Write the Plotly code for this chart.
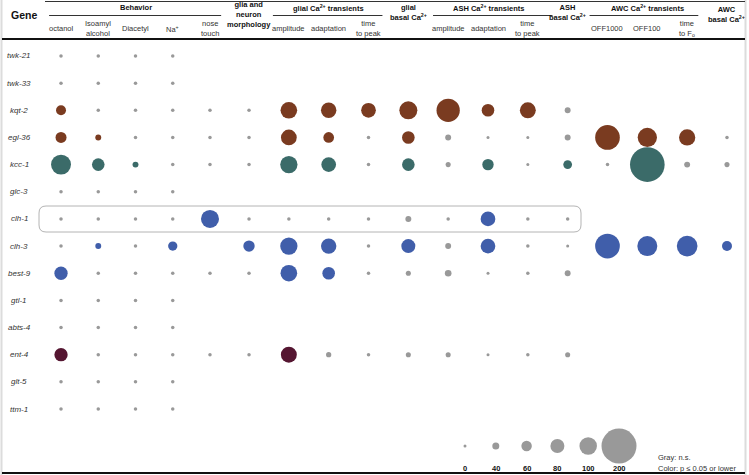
import plotly.graph_objects as go

W, H = 749, 475

# ---------------- data ----------------
genes = ["twk-21", "twk-33", "kqt-2", "egl-36", "kcc-1", "glc-3", "clh-1",
         "clh-3", "best-9", "gtl-1", "abts-4", "ent-4", "glt-5", "ttm-1"]

behavior_cols = ["octanol", "Isoamyl alcohol", "Diacetyl", "Na+", "nose touch"]
imaging_cols = ["morphology",
                "glial amplitude", "glial adaptation", "glial time to peak", "glial basal Ca",
                "ASH amplitude", "ASH adaptation", "ASH time to peak", "ASH basal Ca",
                "AWC OFF1000", "AWC OFF100", "AWC time to Fo", "AWC basal Ca"]
columns = behavior_cols + imaging_cols

behavior_labels = ["octanol", "Isoamyl<br>alcohol", "Diacetyl", "Na<sup>+</sup>", "nose<br>touch"]
imaging_sub_labels = {"glial amplitude": "amplitude", "glial adaptation": "adaptation",
                      "glial time to peak": "time<br>to peak",
                      "ASH amplitude": "amplitude", "ASH adaptation": "adaptation",
                      "ASH time to peak": "time<br>to peak",
                      "AWC OFF1000": "OFF1000", "AWC OFF100": "OFF100",
                      "AWC time to Fo": "time<br>to F<sub>o</sub>"}

N = None
# effect magnitude per gene, one entry per column (None = not tested)
twk21_vals = [20, 20, 20, 20] + [N] * 14
twk33_vals = [20, 20, 20, 20] + [N] * 14
kqt2_vals = [57, 20, 20, 20, 20, 20, 95, 88, 84, 103, 133, 72, 91, 34, N, N, N, N]
egl36_vals = [63, 34, 20, 20, 20, 20, 90, 61, 20, 72, 34, 15, 15, 34, 141, 110, 93, 20]
kcc1_vals = [114, 72, 34, 20, 20, 20, 99, 84, 20, 72, 29, 65, 15, 50, 20, 198, 34, 29]
glc3_vals = [20, 20, 20, 20] + [N] * 14
clh1_vals = [20, 20, 20, 20, 103, 20, 20, 20, 20, 34, 20, 84, 20, 20, N, N, N, N]
clh3_vals = [20, 34, 20, 53, N, 65, 99, 88, 20, 80, 34, 84, 20, 17, 141, 114, 118, 57]
best9_vals = [76, 20, 20, 20, 20, 20, 95, 72, 20, 29, 38, 15, 20, 34, N, N, N, N]
gtl1_vals = [20, 20, 20, 20] + [N] * 14
abts4_vals = [20, 20, 20, 20] + [N] * 14
ent4_vals = [76, 20, 20, 20, 20, 20, 91, 30, 20, 29, 29, 15, 20, 29, N, N, N, N]
glt5_vals = [20, 20, 20, 20] + [N] * 14
ttm1_vals = [20, 20, 20, 20] + [N] * 14

# significance (1 = p <= 0.05 or lower)
z = [0] * 18
twk21_sig = z
twk33_sig = z
kqt2_sig = [1, 0, 0, 0, 0, 0, 1, 1, 1, 1, 1, 1, 1, 0, 0, 0, 0, 0]
egl36_sig = [1, 1, 0, 0, 0, 0, 1, 1, 0, 1, 0, 0, 0, 0, 1, 1, 1, 0]
kcc1_sig = [1, 1, 1, 0, 0, 0, 1, 1, 0, 1, 0, 1, 0, 1, 0, 1, 0, 0]
glc3_sig = z
clh1_sig = [0, 0, 0, 0, 1, 0, 0, 0, 0, 0, 0, 1, 0, 0, 0, 0, 0, 0]
clh3_sig = [0, 1, 0, 1, 0, 1, 1, 1, 0, 1, 0, 1, 0, 0, 1, 1, 1, 1]
best9_sig = [1, 0, 0, 0, 0, 0, 1, 1, 0, 0, 0, 0, 0, 0, 0, 0, 0, 0]
gtl1_sig = z
abts4_sig = z
ent4_sig = [1, 0, 0, 0, 0, 0, 1, 0, 0, 0, 0, 0, 0, 0, 0, 0, 0, 0]
glt5_sig = z
ttm1_sig = z

gene_values = [twk21_vals, twk33_vals, kqt2_vals, egl36_vals, kcc1_vals, glc3_vals, clh1_vals,
               clh3_vals, best9_vals, gtl1_vals, abts4_vals, ent4_vals, glt5_vals, ttm1_vals]
gene_sig = [twk21_sig, twk33_sig, kqt2_sig, egl36_sig, kcc1_sig, glc3_sig, clh1_sig,
            clh3_sig, best9_sig, gtl1_sig, abts4_sig, ent4_sig, glt5_sig, ttm1_sig]

BROWN, TEAL, BLUE, MAROON, GRAY = "#7a3b20", "#3b6b69", "#405eaa", "#551631", "#999999"
gene_colors = [GRAY, GRAY, BROWN, BROWN, TEAL, GRAY, BLUE, BLUE, BLUE, GRAY, GRAY, MAROON, GRAY, GRAY]

legend_values = [0, 40, 60, 80, 100, 200]
legend_cats = [f"size {v}" for v in legend_values]

# ---------------- helpers ----------------
def diam(v):
    return max(3.0, 0.175 * v)

def px(x):
    return x / W

def py(y):
    return 1 - y / H

FONT = "Liberation Sans, Arial, sans-serif"

fig = go.Figure()

for axis, cols in (("x", behavior_cols), ("x2", imaging_cols)):
    xs, ys, ss, cs = [], [], [], []
    for g, vals, sig, gc in zip(genes, gene_values, gene_sig, gene_colors):
        for c in cols:
            i = columns.index(c)
            v = vals[i]
            if v is None:
                continue
            xs.append(c)
            ys.append(g)
            ss.append(diam(v))
            cs.append(gc if sig[i] else GRAY)
    fig.add_trace(go.Scatter(x=xs, y=ys, xaxis=axis, yaxis="y", mode="markers",
                             marker=dict(size=ss, sizemode="diameter", color=cs, line=dict(width=0),
                                         opacity=1),
                             cliponaxis=False, hoverinfo="skip", showlegend=False))

# size legend
fig.add_trace(go.Scatter(x=legend_cats, y=[0] * len(legend_values),
                         xaxis="x3", yaxis="y3", mode="markers",
                         marker=dict(size=[diam(v) for v in legend_values], sizemode="diameter",
                                     color=GRAY, line=dict(width=0), opacity=1),
                         cliponaxis=False, hoverinfo="skip", showlegend=False))

ann = []

def A(**kw):
    d = dict(showarrow=False, xanchor="center", yanchor="middle")
    d.update(kw)
    ann.append(d)

TXT = "#333333"
BLK = "#111111"

for g in genes:
    A(x=px(19), xref="paper", y=g, yref="y", text=f"<i>{g}</i>", font=dict(size=8, color=TXT))

A(x=px(24), y=py(15), xref="paper", yref="paper", text="<b>Gene</b>", font=dict(size=10.5, color=BLK))

for c, lab in zip(behavior_cols, behavior_labels):
    A(x=c, xref="x", y=py(29), yref="paper", text=lab, font=dict(size=7.5, color=TXT))
for c, lab in imaging_sub_labels.items():
    A(x=c, xref="x2", y=py(28.5), yref="paper", text=lab, font=dict(size=7.5, color=TXT))

bold = dict(size=7.5, color=BLK)
A(x="Diacetyl", xref="x", y=py(8), yref="paper", text="<b>Behavior</b>", font=bold)
A(x="glial adaptation", xref="x2", y=py(8), yref="paper",
  text="<b>glial Ca<sup>2+</sup> transients</b>", font=bold)
A(x="ASH adaptation", xref="x2", y=py(8), yref="paper",
  text="<b>ASH Ca<sup>2+</sup> transients</b>", font=bold)
A(x="AWC OFF100", xref="x2", y=py(8), yref="paper",
  text="<b>AWC Ca<sup>2+</sup> transients</b>", font=bold)
A(x="morphology", xref="x2", y=py(15), yref="paper",
  text="<b>glia and<br>neuron<br>morphology</b>", font=bold)
A(x="glial basal Ca", xref="x2", y=py(12), yref="paper",
  text="<b>glial<br>basal Ca<sup>2+</sup></b>", font=bold)
A(x="ASH basal Ca", xref="x2", y=py(12), yref="paper",
  text="<b>ASH<br>basal Ca<sup>2+</sup></b>", font=bold)
A(x="AWC basal Ca", xref="x2", y=py(15), yref="paper",
  text="<b>AWC<br>basal Ca<sup>2+</sup></b>", font=bold)

for cat, v in zip(legend_cats, legend_values):
    A(x=cat, xref="x3", y=py(468), yref="paper", text=f"<b>{v}</b>", font=dict(size=7.5, color=BLK))
A(x=px(656), xref="paper", y=py(457.5), yref="paper", text="Gray: n.s.", xanchor="left",
  font=dict(size=7.5, color=TXT))
A(x=px(656), xref="paper", y=py(468), yref="paper", text="Color: p ≤ 0.05 or lower", xanchor="left",
  font=dict(size=7.5, color=TXT))

shapes = []
shapes.append(dict(type="line", xref="paper", yref="paper", x0=px(1.5), x1=px(1.5), y0=0, y1=1,
                   line=dict(color="#dcdcdc", width=2)))
shapes.append(dict(type="line", xref="paper", yref="paper", x0=px(745.5), x1=px(745.5), y0=0, y1=1,
                   line=dict(color="#dcdcdc", width=2)))
shapes.append(dict(type="line", xref="paper", yref="paper", x0=px(45), x1=px(745), y0=py(1.5), y1=py(1.5),
                   line=dict(color="#333", width=1)))
shapes.append(dict(type="line", xref="paper", yref="paper", x0=px(2), x1=px(745), y0=py(39), y1=py(39),
                   line=dict(color="#111", width=1.8)))
shapes.append(dict(type="line", xref="paper", yref="paper", x0=px(2), x1=px(745), y0=py(473), y1=py(473),
                   line=dict(color="#111", width=2)))

def gline(xref, a, b):
    shapes.append(dict(type="line", xref=xref, yref="paper", x0=a, x1=b, y0=py(15.5), y1=py(15.5),
                       line=dict(color="#333", width=1)))
gline("x", -0.32, 4.3)
gline("x2", 0.6, 3.35)
gline("x2", 4.62, 7.62)
gline("x2", 8.55, 11.28)

x0, x1, yt, yb, r = px(39), px(581), py(206), py(232), 7
rx, ry = r / W, r / H
path = (f"M {x0+rx},{yt} L {x1-rx},{yt} Q {x1},{yt} {x1},{yt-ry} L {x1},{yb+ry} "
        f"Q {x1},{yb} {x1-rx},{yb} L {x0+rx},{yb} Q {x0},{yb} {x0},{yb+ry} "
        f"L {x0},{yt-ry} Q {x0},{yt} {x0+rx},{yt} Z")
shapes.append(dict(type="path", xref="paper", yref="paper", path=path,
                   line=dict(color="#b4b4b4", width=1), layer="below"))

fig.update_layout(
    width=W, height=H, margin=dict(l=0, r=0, t=0, b=0),
    paper_bgcolor="white", plot_bgcolor="white",
    font=dict(family=FONT),
    showlegend=False,
    xaxis=dict(domain=[px(42.4), px(228.6)], type="category", categoryorder="array",
               categoryarray=behavior_cols, range=[-0.5, 4.5], visible=False, anchor="y"),
    xaxis2=dict(domain=[px(229.1), px(746.9)], type="category", categoryorder="array",
                categoryarray=imaging_cols, range=[-0.5, 12.5], visible=False, anchor="y"),
    yaxis=dict(domain=[py(422.6), py(42.4)], type="category", categoryorder="array",
               categoryarray=genes, range=[13.5, -0.5], visible=False, anchor="x"),
    xaxis3=dict(domain=[px(449.6), px(634.4)], type="category", categoryorder="array",
                categoryarray=legend_cats, range=[-0.5, 5.5], visible=False, anchor="y3"),
    yaxis3=dict(domain=[py(456), py(436)], range=[-1, 1], visible=False, anchor="x3"),
    annotations=ann,
    shapes=shapes,
)

fig.write_html("out.html", config={"displayModeBar": False},
               post_script="document.body.style.margin='0';document.body.style.padding='0';"
                           "document.body.style.overflow='hidden';")
